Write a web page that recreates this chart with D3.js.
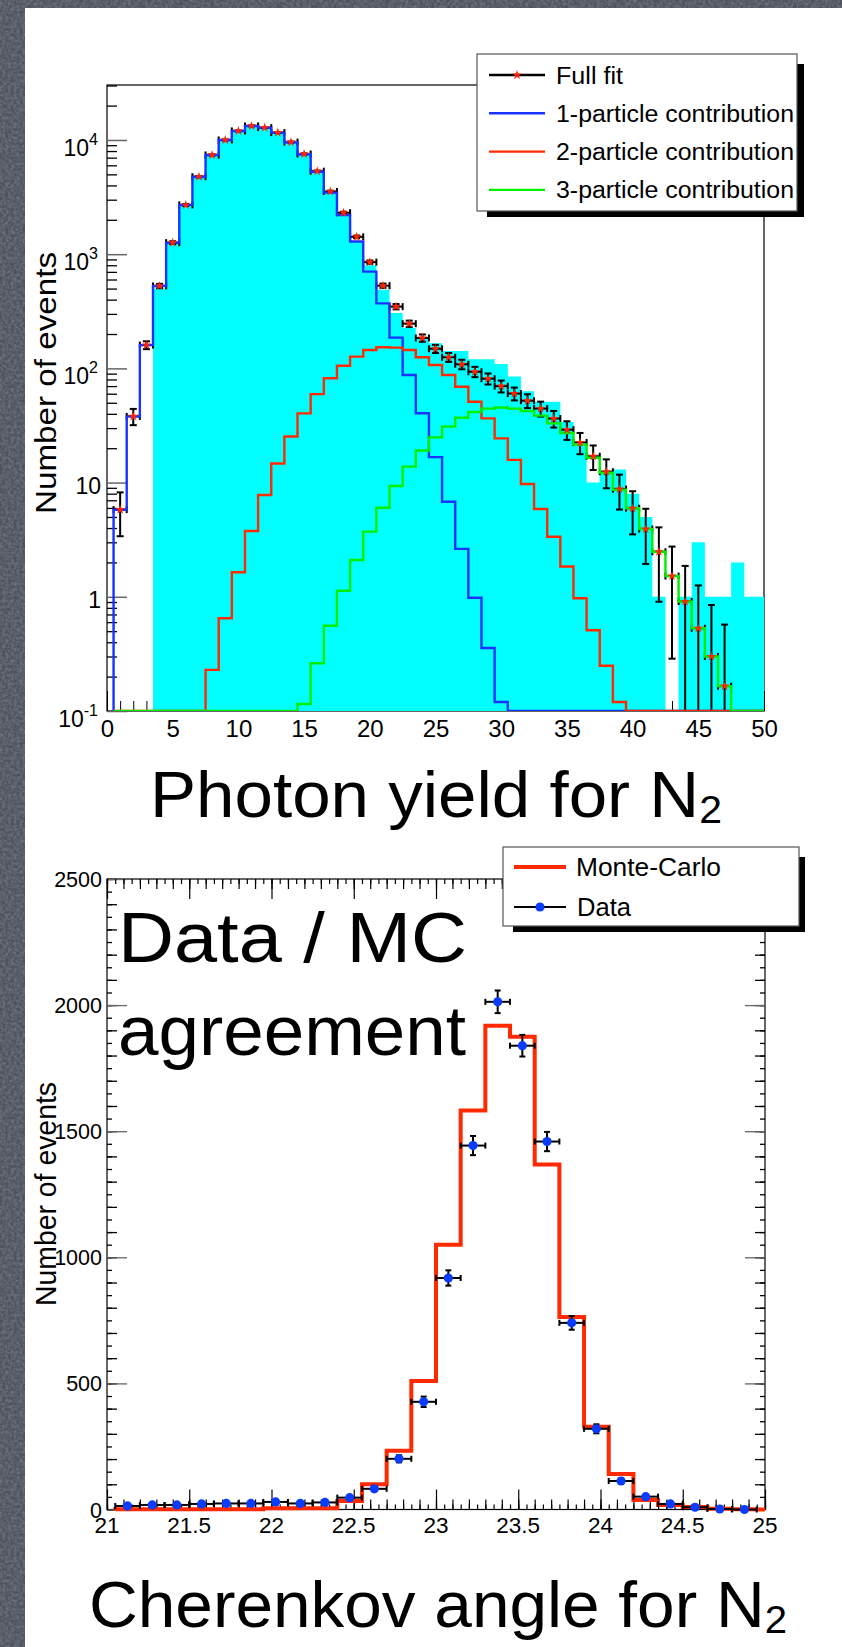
<!DOCTYPE html>
<html>
<head>
<meta charset="utf-8">
<script src="https://cdn.jsdelivr.net/npm/d3@7"></script>
<style>
  body { margin: 0; background: #4d525c; }
  svg { display: block; }
  .root text { font-family: "Liberation Sans", Arial, Helvetica, sans-serif; fill: #000; }
  .comic { font-family: "Comic Sans MS", "Comic Neue", "Open Sans", sans-serif; fill: #000; }
</style>
</head>
<body>
<div id="chart"></div>
<script>
// ---- Photon yield for N2 : bins of width 1 centred on 1..50
const yieldCenters = [1,2,3,4,5,6,7,8,9,10,11,12,13,14,15,16,17,18,19,20,21,22,23,24,25,
  26,27,28,29,30,31,32,33,34,35,36,37,38,39,40,41,42,43,44,45,46,47,48,49,50]
const yieldData = [0,0,0,500,1250,2680,4750,7350,9950,11950,13200,12780,11550,9500,7480,5250,3450,2190,1300,800,
  487,305,226,186,166,142,142,120,120,109,85,63,51,51,34,21,10,12,13,8,5,1,0,1,3,1,1,2,1,1]
const onePart = [5.8,38,160,527,1262,2700,4770,7390,10000,12000,13270,12820,11590,9550,7500,5270,3460,2200,1290,703,
  371,186,87.5,40.5,16.7,6.8,2.63,0.98,0.356,0.12,0,0,0,0,0,0,0,0,0,0,0,0,0,0,0,0,0,0,0,0]
const twoPart = [0,0,0,0,0,0,0,0.229,0.648,1.64,3.77,7.78,14.7,25.3,40.4,59.5,81.9,105.6,126.7,145,
  153,152,145,125,107,87.5,69,51,36.5,24.4,15.8,9.72,5.87,3.36,1.84,0.97,0.51,0.249,0.12,0,0,0,0,0,0,0,0,0,0,0]
const threePart = [0,0,0,0,0,0,0,0,0,0,0,0,0,0,0.115,0.262,0.558,1.13,2.1,3.72,
  6.03,9.34,13.8,19.1,24.9,30.9,37,41.5,44.4,45.4,44.4,42.4,38.6,33,27.2,21.5,16.5,12.2,8.65,5.96,
  3.92,2.48,1.52,0.91,0.53,0.3,0.165,0,0,0]
const yieldXTicks = [0,5,10,15,20,25,30,35,40,45,50]
const yieldYExp = [-1,0,1,2,3,4]

// ---- Cherenkov angle for N2 : bins of width 0.15
const angleCenters = [21.125,21.275,21.425,21.575,21.725,21.875,22.025,22.175,22.325,22.475,22.625,22.775,22.925,
  23.075,23.225,23.375,23.525,23.675,23.825,23.975,24.125,24.275,24.425,24.575,24.725,24.875]
const angleData = [14,18,18,22,24,24,30,24,28,47,82,201,427,918,1443,2013,1839,1459,740,320,113,51,22,9,2,0]
const angleMC = [1,1,1,1,1,1,5,5,5,34,100,233,510,1050,1582,1918,1875,1368,763,328,141,38,18,10,3,1]
const angleXTicks = [21,21.5,22,22.5,23,23.5,24,24.5,25]
const angleYTicks = [0,500,1000,1500,2000,2500]

const W = 842, H = 1647
const svg = d3.select("#chart").append("svg")
  .attr("width", W).attr("height", H)
  .attr("class", "root")

// granite-ish slide background
const defs = svg.append("defs")
const grain = defs.append("filter").attr("id", "grain").attr("x", 0).attr("y", 0).attr("width", "100%").attr("height", "100%")
grain.append("feTurbulence").attr("type", "fractalNoise").attr("baseFrequency", 0.35).attr("numOctaves", 3).attr("seed", 3)
grain.append("feColorMatrix").attr("type", "matrix")
  .attr("values", "0 0 0 0 0.42  0 0 0 0 0.45  0 0 0 0 0.5  0.9 0 0 0 -0.25")

svg.append("rect").attr("width", W).attr("height", H).attr("fill", "#4c515b")
svg.append("rect").attr("width", W).attr("height", H).attr("fill", "#fff").attr("filter", "url(#grain)").attr("opacity", 0.7)
svg.append("rect").attr("x", 25).attr("y", 8).attr("width", W - 25).attr("height", H - 8).attr("fill", "#fff")

// helpers
function stepLine(centers, vals, half, x, y, lo) {
  const p = d3.path()
  p.moveTo(x(centers[0] - half), y(lo))
  centers.forEach((c, i) => {
    const v = Math.max(vals[i], lo)
    p.lineTo(x(c - half), y(v))
    p.lineTo(x(c + half), y(v))
  })
  p.lineTo(x(centers[centers.length - 1] + half), y(lo))
  return p.toString()
}

// ================= TOP: photon yield =================
const x1 = d3.scaleLinear([0, 50], [107, 764])
const y1 = d3.scaleLog([0.1, 30300], [711, 85])
const topG = svg.append("g")

defs.append("clipPath").attr("id", "clip1").append("rect")
  .attr("x", 107).attr("y", 85).attr("width", 657).attr("height", 626)

topG.append("rect").attr("x", 107).attr("y", 85).attr("width", 657).attr("height", 626)
  .attr("fill", "none").attr("stroke", "#000").attr("stroke-width", 1.2)

// y ticks (log)
const minorY = []
yieldYExp.forEach(k => d3.range(2, 10).forEach(m => { if (m * 10 ** k < 30300) minorY.push(m * 10 ** k) }))
topG.append("g").attr("transform", "translate(107,0)")
  .call(d3.axisRight(y1).tickValues(minorY).tickSize(10).tickFormat(""))
  .call(g => g.select(".domain").remove())
  .call(g => g.selectAll("line").attr("stroke", "#000").attr("stroke-width", 1.3))
topG.append("g").attr("transform", "translate(107,0)")
  .call(d3.axisRight(y1).tickValues(yieldYExp.map(k => 10 ** k)).tickSize(20).tickFormat(""))
  .call(g => g.select(".domain").remove())
  .call(g => g.selectAll("line").attr("stroke", "#666").attr("stroke-width", 1.5))

// y labels (ROOT style powers of ten)
yieldYExp.forEach(k => {
  const yy = y1(10 ** k)
  if (k === 0 || k === 1) {
    topG.append("text").attr("x", 101).attr("y", yy + 11).attr("text-anchor", "end")
      .attr("font-size", 23).text(k === 0 ? "1" : "10")
  } else {
    const t = topG.append("text").attr("x", 98).attr("y", yy + 16).attr("text-anchor", "end").attr("font-size", 23)
    t.append("tspan").text("10")
    t.append("tspan").attr("font-size", 16).attr("dy", -11).text(k)
  }
})

// x ticks
topG.append("g").attr("transform", "translate(0,711)")
  .call(d3.axisBottom(x1).tickValues(d3.range(0, 51, 1)).tickSize(-10).tickFormat(""))
  .call(g => g.select(".domain").remove())
  .call(g => g.selectAll("line").attr("stroke", "#000"))
topG.append("g").attr("transform", "translate(0,711)")
  .call(d3.axisBottom(x1).tickValues(yieldXTicks).tickSize(-20).tickPadding(8.5).tickFormat(d3.format("d")))
  .call(g => g.select(".domain").remove())
  .call(g => g.selectAll("line").attr("stroke", "#000"))
  .call(g => g.selectAll("text").attr("font-size", 24).attr("font-family", null).attr("fill", "#000"))

topG.append("text").attr("transform", "translate(56,383) rotate(-90)")
  .attr("text-anchor", "middle").attr("font-size", 29)
  .attr("textLength", 262).attr("lengthAdjust", "spacingAndGlyphs").text("Number of events")

const plot1 = topG.append("g").attr("clip-path", "url(#clip1)")

// data histogram (cyan fill)
const fillPath = d3.path()
fillPath.moveTo(x1(yieldCenters[0] - 0.5), y1(0.1))
yieldCenters.forEach((c, i) => {
  const v = Math.max(yieldData[i], 0.1)
  fillPath.lineTo(x1(c - 0.5), y1(v))
  fillPath.lineTo(x1(c + 0.5), y1(v))
})
fillPath.lineTo(x1(50.5), y1(0.1))
fillPath.closePath()
plot1.append("path").attr("d", fillPath.toString()).attr("fill", "#00ffff")

// full fit = sum of contributions, with poisson error bars
const fullFit = yieldCenters.map((c, i) => onePart[i] + twoPart[i] + threePart[i])
const eb = plot1.append("g").attr("stroke", "#000").attr("stroke-width", 2).attr("fill", "none")
yieldCenters.forEach((c, i) => {
  const v = fullFit[i]
  if (v < 0.1) return
  const e = Math.sqrt(v)
  const cx = x1(c), cy = y1(v)
  const yHi = y1(v + e)
  const yLo = v - e > 0.1 ? y1(v - e) : y1(0.1)
  eb.append("line").attr("x1", cx).attr("x2", cx).attr("y1", yHi).attr("y2", yLo)
  eb.append("line").attr("x1", cx - 3.5).attr("x2", cx + 3.5).attr("y1", yHi).attr("y2", yHi)
  if (v - e > 0.1) eb.append("line").attr("x1", cx - 3.5).attr("x2", cx + 3.5).attr("y1", yLo).attr("y2", yLo)
  const xl = x1(c - 0.5), xr = x1(c + 0.5)
  eb.append("line").attr("x1", xl).attr("x2", xr).attr("y1", cy).attr("y2", cy)
  eb.append("line").attr("x1", xl).attr("x2", xl).attr("y1", cy - 3.5).attr("y2", cy + 3.5)
  eb.append("line").attr("x1", xr).attr("x2", xr).attr("y1", cy - 3.5).attr("y2", cy + 3.5)
})

const comps = [
  { vals: onePart, color: "#1a33ff" },
  { vals: twoPart, color: "#ff2a00" },
  { vals: threePart, color: "#00ee00" }
]
comps.forEach(s => {
  plot1.append("path").attr("d", stepLine(yieldCenters, s.vals, 0.5, x1, y1, 0.1))
    .attr("fill", "none").attr("stroke", s.color).attr("stroke-width", 2.4)
})

const star = d3.symbol(d3.symbolStar, 28)
yieldCenters.forEach((c, i) => {
  if (fullFit[i] < 0.1) return
  plot1.append("path").attr("d", star()).attr("transform", `translate(${x1(c)},${y1(fullFit[i])})`)
    .attr("fill", "#ff2200")
})

// legend
const lg1 = topG.append("g")
lg1.append("rect").attr("x", 487).attr("y", 64).attr("width", 317).attr("height", 153).attr("fill", "#000")
lg1.append("rect").attr("x", 477).attr("y", 54).attr("width", 320).attr("height", 157)
  .attr("fill", "#fff").attr("stroke", "#555").attr("stroke-width", 1.2)
const lgItems1 = [
  { label: "Full fit", color: "#000", marker: true, w: 67 },
  { label: "1-particle contribution", color: "#1a33ff", w: 238 },
  { label: "2-particle contribution", color: "#ff2a00", w: 238 },
  { label: "3-particle contribution", color: "#00ee00", w: 238 }
]
lgItems1.forEach((d, i) => {
  const yy = 75 + i * 38.3
  lg1.append("line").attr("x1", 489).attr("x2", 545).attr("y1", yy).attr("y2", yy)
    .attr("stroke", d.color).attr("stroke-width", 2.4)
  if (d.marker) lg1.append("path").attr("d", star()).attr("transform", `translate(517,${yy})`).attr("fill", "#ff2200")
  lg1.append("text").attr("x", 556).attr("y", yy + 8.5).attr("font-size", 23.5)
    .attr("textLength", d.w).attr("lengthAdjust", "spacingAndGlyphs").text(d.label)
})

// title
const t1 = svg.append("text").attr("class", "comic").attr("x", 150).attr("y", 817).attr("font-size", 64)
  .attr("textLength", 572).attr("lengthAdjust", "spacingAndGlyphs")
t1.append("tspan").text("Photon yield for N")
t1.append("tspan").attr("font-size", 38).attr("dy", 6).text("2")

// ================= BOTTOM: cherenkov angle =================
const x2 = d3.scaleLinear([21, 25], [107, 765])
const y2 = d3.scaleLinear([0, 2500], [1509.5, 879])
const botG = svg.append("g")

botG.append("rect").attr("x", 107).attr("y", 879).attr("width", 658).attr("height", 630.5)
  .attr("fill", "none").attr("stroke", "#000").attr("stroke-width", 1.2)

function yTicks(axisFn, xPos) {
  [[d3.range(0, 2501, 50), 5], [d3.range(0, 2501, 100), 10], [angleYTicks, 20]].forEach(([vals, len]) => {
    botG.append("g").attr("transform", `translate(${xPos},0)`)
      .call(axisFn(y2).tickValues(vals).tickSize(len).tickFormat(""))
      .call(g => g.select(".domain").remove())
      .call(g => g.selectAll("line").attr("stroke", len === 20 ? "#666" : "#000").attr("stroke-width", 1.3))
  })
}
yTicks(d3.axisRight, 107)
yTicks(d3.axisLeft, 765)

function xTicks(axisFn, yPos) {
  [[d3.range(21, 25.001, 0.05), 5], [d3.range(21, 25.001, 0.1), 10], [angleXTicks, 20]].forEach(([vals, len]) => {
    botG.append("g").attr("transform", `translate(0,${yPos})`)
      .call(axisFn(x2).tickValues(vals).tickSize(len).tickFormat(""))
      .call(g => g.select(".domain").remove())
      .call(g => g.selectAll("line").attr("stroke", "#000").attr("stroke-width", 1.2))
  })
}
xTicks(d3.axisTop, 1509.5)
xTicks(d3.axisBottom, 879)

angleYTicks.forEach(v => {
  botG.append("text").attr("x", 102).attr("y", y2(v) + 8).attr("text-anchor", "end")
    .attr("font-size", 21.5).text(v)
})
angleXTicks.forEach(v => {
  botG.append("text").attr("x", x2(v)).attr("y", 1533).attr("text-anchor", "middle")
    .attr("font-size", 22.5).text(v)
})

botG.append("text").attr("transform", "translate(56,1194) rotate(-90)")
  .attr("text-anchor", "middle").attr("font-size", 29)
  .attr("textLength", 224).attr("lengthAdjust", "spacingAndGlyphs").text("Number of events")

// MC step
botG.append("path").attr("d", stepLine(angleCenters, angleMC, 0.075, x2, y2, 0) + `L${x2(25)},${y2(0)}`)
  .attr("fill", "none").attr("stroke", "#ff2a00").attr("stroke-width", 4)

// data points with errors
const pts = botG.append("g")
angleCenters.forEach((c, i) => {
  const v = angleData[i], e = Math.sqrt(v)
  const cx = x2(c), cy = y2(v)
  const xl = x2(c - 0.075), xr = x2(c + 0.075)
  const g = pts.append("g").attr("stroke", "#000").attr("stroke-width", 2)
  g.append("line").attr("x1", xl).attr("x2", xr).attr("y1", cy).attr("y2", cy)
  g.append("line").attr("x1", xl).attr("x2", xl).attr("y1", cy - 3).attr("y2", cy + 3)
  g.append("line").attr("x1", xr).attr("x2", xr).attr("y1", cy - 3).attr("y2", cy + 3)
  if (e > 2) {
    g.append("line").attr("x1", cx).attr("x2", cx).attr("y1", y2(v + e)).attr("y2", y2(v - e))
    g.append("line").attr("x1", cx - 3).attr("x2", cx + 3).attr("y1", y2(v + e)).attr("y2", y2(v + e))
    g.append("line").attr("x1", cx - 3).attr("x2", cx + 3).attr("y1", y2(v - e)).attr("y2", y2(v - e))
  }
  pts.append("circle").attr("cx", cx).attr("cy", cy).attr("r", 4.6).attr("fill", "#0a3cff")
})

// legend
const lg2 = botG.append("g")
lg2.append("rect").attr("x", 513).attr("y", 857).attr("width", 292).attr("height", 75).attr("fill", "#000")
lg2.append("rect").attr("x", 503).attr("y", 847).attr("width", 296).attr("height", 79)
  .attr("fill", "#fff").attr("stroke", "#555").attr("stroke-width", 1.2)
lg2.append("line").attr("x1", 514).attr("x2", 566).attr("y1", 867).attr("y2", 867)
  .attr("stroke", "#ff2a00").attr("stroke-width", 4)
lg2.append("line").attr("x1", 514).attr("x2", 566).attr("y1", 907).attr("y2", 907)
  .attr("stroke", "#000").attr("stroke-width", 2)
lg2.append("circle").attr("cx", 540).attr("cy", 907).attr("r", 4.6).attr("fill", "#0a3cff")
lg2.append("text").attr("x", 576).attr("y", 876).attr("font-size", 25)
  .attr("textLength", 145).attr("lengthAdjust", "spacingAndGlyphs").text("Monte-Carlo")
lg2.append("text").attr("x", 577).attr("y", 916).attr("font-size", 25)
  .attr("textLength", 54).attr("lengthAdjust", "spacingAndGlyphs").text("Data")

// overlay text
svg.append("text").attr("class", "comic").attr("x", 118).attr("y", 962).attr("font-size", 70)
  .attr("textLength", 349).attr("lengthAdjust", "spacingAndGlyphs").text("Data / MC")
svg.append("text").attr("class", "comic").attr("x", 118).attr("y", 1055).attr("font-size", 70)
  .attr("textLength", 348).attr("lengthAdjust", "spacingAndGlyphs").text("agreement")

const t2 = svg.append("text").attr("class", "comic").attr("x", 89).attr("y", 1627).attr("font-size", 64)
  .attr("textLength", 698).attr("lengthAdjust", "spacingAndGlyphs")
t2.append("tspan").text("Cherenkov angle for N")
t2.append("tspan").attr("font-size", 38).attr("dy", 6).text("2")
</script>
</body>
</html>
